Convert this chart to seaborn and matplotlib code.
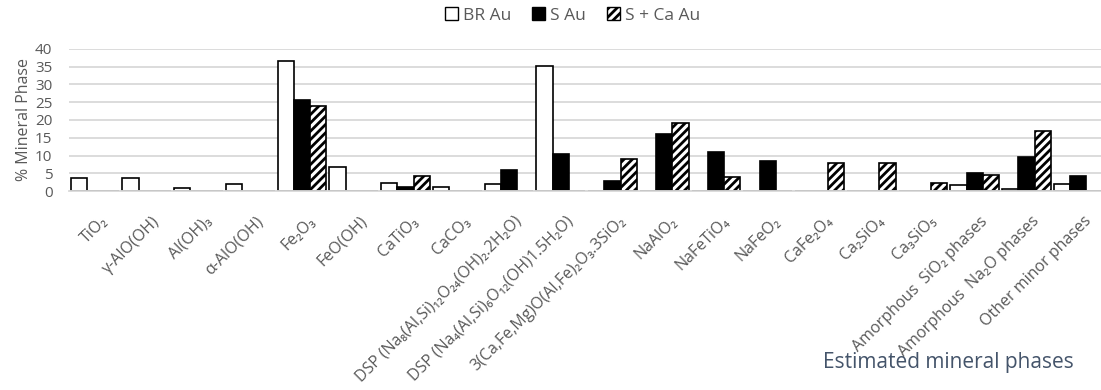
import matplotlib
matplotlib.use('Agg')
import matplotlib.pyplot as plt
from matplotlib.patches import Patch
from matplotlib.transforms import ScaledTranslation
import seaborn as sns
import pandas as pd


# Data

phases = ['TiO₂', 'γ-AlO(OH)', 'Al(OH)₃', 'α-AlO(OH)', 'Fe₂O₃', 'FeO(OH)', 'CaTiO₃', 'CaCO₃',
          'DSP (Na₈(Al,Si)₁₂O₂₄(OH)₂.2H₂O)', 'DSP (Na₄(Al,Si)₆O₁₂(OH)1.5H₂O)',
          '3(Ca,Fe,Mg)O(Al,Fe)₂O₃.3SiO₂', 'NaAlO₂', 'NaFeTiO₄', 'NaFeO₂', 'CaFe₂O₄',
          'Ca₂SiO₄', 'Ca₃SiO₅', 'Amorphous  SiO₂ phases', 'Amorphous  Na₂O phases',
          'Other minor phases']

samples = ['BR Au', 'S Au', 'S + Ca Au']

br_au   = [3.8, 3.8, 1.0, 2.0, 36.6, 6.9, 2.3, 1.2, 2.0, 35.1, 0, 0, 0, 0, 0, 0, 0, 1.6, 0.5, 2.0]
s_au    = [0, 0, 0, 0, 25.5, 0, 1.2, 0, 5.8, 10.3, 2.8, 16.0, 11.0, 8.4, 0, 0, 0, 5.1, 9.6, 4.3]
s_ca_au = [0, 0, 0, 0, 23.9, 0, 4.3, 0, 0, 0, 8.9, 19.0, 3.9, 0, 8.0, 8.0, 2.4, 4.4, 16.8, 0]

df = pd.DataFrame({'Phase': phases * 3,
                   'Sample': [s for s in samples for _ in phases],
                   'Value': br_au + s_au + s_ca_au})

# Style

sns.set_style('white')
plt.rcParams['font.family'] = ['Open Sans', 'DejaVu Sans']
plt.rcParams['hatch.linewidth'] = 2.0
plt.rcParams['hatch.color'] = 'black'

gray = '#595959'

fig = plt.figure(figsize=(11.01, 3.9), dpi=100)
ax = fig.add_axes([0.0628, 0.51, 0.94, 0.365])

sns.barplot(ax=ax, data=df, x='Phase', y='Value', hue='Sample', hue_order=samples,
            palette={'BR Au': 'white', 'S Au': 'black', 'S + Ca Au': 'white'},
            edgecolor='black', linewidth=1.2, width=0.944, legend=False)

# hatching for the third series
for bar in ax.containers[2]:
  bar.set_hatch('////')
  bar.set_facecolor('white')

ax.set_ylim(0, 40)
ax.set_yticks(range(0, 41, 5))
ax.set_xlim(-0.5, len(phases) - 0.5)
ax.yaxis.grid(True, color='#d9d9d9', linewidth=1.3)
ax.set_axisbelow(True)
for side in ['top', 'right', 'left']:
  ax.spines[side].set_visible(False)
ax.spines['bottom'].set_color('#d9d9d9')
ax.spines['bottom'].set_linewidth(1.3)

ax.tick_params(axis='y', length=0, colors=gray, labelsize=11, pad=12)
ax.tick_params(axis='x', length=0, colors=gray, labelsize=11.5, pad=16)
plt.setp(ax.get_xticklabels(), rotation=45, ha='right', rotation_mode='anchor')
shift = ScaledTranslation(5 / 100, 0, fig.dpi_scale_trans)
for t in ax.get_xticklabels():
  t.set_transform(t.get_transform() + shift)

ax.set_ylabel('% Mineral Phase', color=gray, fontsize=11.5, labelpad=2)
ax.set_xlabel('')
fig.text(0.861, 0.07, 'Estimated mineral phases', color='#44546a', fontsize=15,
         ha='center', va='center')

handles = [Patch(facecolor='white', edgecolor='black', label='BR Au'),
           Patch(facecolor='black', edgecolor='black', label='S Au'),
           Patch(facecolor='white', edgecolor='black', hatch='////', label='S + Ca Au')]
leg = fig.legend(handles=handles, loc='center', bbox_to_anchor=(0.52, 0.96), ncol=3,
                 frameon=False, fontsize=12.5, handlelength=0.75, handleheight=0.75,
                 handletextpad=0.3, columnspacing=1.2)
for t in leg.get_texts():
  t.set_color(gray)

fig.savefig('out.png', dpi=100)
